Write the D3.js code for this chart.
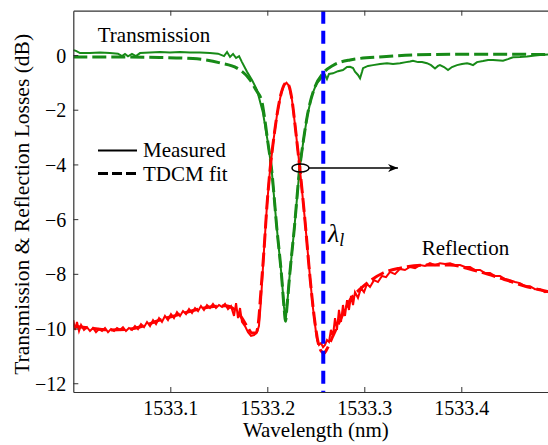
<!DOCTYPE html>
<meta charset="utf-8">
<style>
    body { margin: 0; background: #fff; }
    svg text { font-family: "Liberation Serif", "DejaVu Serif", serif; }
</style>
<body>
<script src="https://d3js.org/d3.v7.min.js"></script>
<script>

    // wavelength (nm), loss (dB)
    var transMeasured = [[1533.0000,0.18],[1533.0028,0.15],[1533.0069,0.07],[1533.0172,0.07],[1533.0275,0.09],[1533.0378,0.07],[1533.0461,0.05],[1533.0502,-0.04],[1533.0533,0.04],[1533.0564,-0.05],[1533.0605,0.04],[1533.0646,-0.04],[1533.0688,0.07],[1533.0791,0.09],[1533.0894,0.11],[1533.0997,0.09],[1533.1100,0.11],[1533.1203,0.09],[1533.1306,0.09],[1533.1409,0.07],[1533.1492,0.05],[1533.1554,-0.04],[1533.1585,0.11],[1533.1616,-0.07],[1533.1647,0.04],[1533.1678,-0.11],[1533.1709,-0.04],[1533.1739,-0.26],[1533.1791,-0.61],[1533.1842,-0.91],[1533.1894,-1.28],[1533.1956,-2.12],[1533.2007,-3.22],[1533.2045,-4.20],[1533.2097,-6.28],[1533.2148,-8.11],[1533.2172,-9.20],[1533.2188,-9.73],[1533.2203,-9.20],[1533.2229,-8.11],[1533.2280,-6.28],[1533.2332,-4.20],[1533.2373,-3.11],[1533.2414,-2.19],[1533.2461,-1.46],[1533.2509,-1.03],[1533.2543,-0.91],[1533.2564,-0.80],[1533.2595,-0.73],[1533.2615,-0.88],[1533.2636,-0.69],[1533.2677,-0.67],[1533.2729,-0.59],[1533.2780,-0.55],[1533.2822,-0.44],[1533.2853,-0.43],[1533.2884,-0.48],[1533.2904,-0.61],[1533.2935,-0.73],[1533.2956,-0.85],[1533.2976,-0.62],[1533.2987,-0.48],[1533.3038,-0.40],[1533.3090,-0.37],[1533.3162,-0.33],[1533.3234,-0.30],[1533.3296,-0.33],[1533.3368,-0.30],[1533.3430,-0.26],[1533.3471,-0.24],[1533.3502,-0.21],[1533.3554,-0.26],[1533.3595,-0.26],[1533.3646,-0.30],[1533.3688,-0.37],[1533.3729,-0.49],[1533.3760,-0.40],[1533.3780,-0.37],[1533.3822,-0.44],[1533.3863,-0.55],[1533.3904,-0.44],[1533.3956,-0.37],[1533.4007,-0.33],[1533.4059,-0.30],[1533.4090,-0.33],[1533.4121,-0.37],[1533.4162,-0.26],[1533.4224,-0.22],[1533.4276,-0.18],[1533.4327,-0.18],[1533.4399,-0.20],[1533.4430,-0.21],[1533.4481,-0.15],[1533.4533,-0.08],[1533.4605,-0.07],[1533.4678,-0.05],[1533.4760,-0.02],[1533.4811,0.00],[1533.4894,0.02],[1533.5017,0.02]];

    var transFit = [[1533.0000,-0.07],[1533.0481,-0.07],[1533.0890,-0.09],[1533.1234,-0.13],[1533.1513,-0.29],[1533.1688,-0.48],[1533.1822,-0.91],[1533.1884,-1.28],[1533.1945,-1.72],[1533.1976,-2.40],[1533.2007,-3.22],[1533.2045,-4.20],[1533.2097,-6.28],[1533.2148,-8.11],[1533.2172,-9.20],[1533.2188,-9.73],[1533.2203,-9.20],[1533.2229,-8.11],[1533.2280,-6.28],[1533.2332,-4.20],[1533.2373,-3.11],[1533.2414,-2.19],[1533.2492,-1.16],[1533.2577,-0.66],[1533.2677,-0.38],[1533.2853,-0.18],[1533.3193,-0.06],[1533.3708,0.02],[1533.4399,0.03],[1533.4894,0.02],[1533.5017,0.02]];

    var reflMeasured = [[1533.0000,-9.69],[1533.0018,-10.05],[1533.0038,-9.76],[1533.0059,-10.09],[1533.0080,-9.87],[1533.0110,-10.05],[1533.0141,-9.95],[1533.0172,-10.09],[1533.0203,-9.98],[1533.0234,-10.13],[1533.0265,-10.02],[1533.0296,-10.09],[1533.0327,-9.98],[1533.0358,-10.13],[1533.0389,-10.02],[1533.0420,-10.09],[1533.0451,-9.98],[1533.0481,-10.05],[1533.0512,-9.95],[1533.0543,-10.09],[1533.0574,-9.98],[1533.0605,-10.05],[1533.0636,-9.91],[1533.0667,-10.02],[1533.0698,-9.84],[1533.0729,-9.95],[1533.0760,-9.76],[1533.0791,-9.91],[1533.0822,-9.69],[1533.0853,-9.84],[1533.0884,-9.62],[1533.0914,-9.76],[1533.0945,-9.54],[1533.0976,-9.69],[1533.1007,-9.47],[1533.1038,-9.62],[1533.1069,-9.40],[1533.1100,-9.54],[1533.1131,-9.36],[1533.1162,-9.47],[1533.1193,-9.29],[1533.1224,-9.43],[1533.1255,-9.25],[1533.1286,-9.36],[1533.1316,-9.18],[1533.1347,-9.32],[1533.1378,-9.14],[1533.1409,-9.25],[1533.1440,-9.10],[1533.1471,-9.25],[1533.1502,-9.14],[1533.1533,-9.21],[1533.1564,-9.10],[1533.1595,-9.29],[1533.1626,-9.18],[1533.1657,-9.54],[1533.1678,-9.07],[1533.1698,-9.62],[1533.1719,-9.25],[1533.1739,-9.76],[1533.1770,-9.91],[1533.1801,-10.13],[1533.1832,-10.27],[1533.1863,-10.24],[1533.1894,-10.13],[1533.1914,-9.91],[1533.1935,-8.96],[1533.1966,-7.13],[1533.1997,-5.48],[1533.2028,-4.20],[1533.2064,-3.11],[1533.2100,-2.19],[1533.2141,-1.43],[1533.2172,-1.10],[1533.2198,-1.01],[1533.2224,-1.13],[1533.2255,-1.65],[1533.2286,-2.56],[1533.2317,-3.55],[1533.2337,-4.20],[1533.2389,-6.07],[1533.2440,-8.12],[1533.2471,-9.25],[1533.2492,-9.87],[1533.2513,-10.42],[1533.2533,-10.60],[1533.2554,-10.53],[1533.2575,-10.68],[1533.2595,-10.60],[1533.2615,-10.42],[1533.2636,-10.49],[1533.2656,-10.05],[1533.2677,-10.27],[1533.2698,-9.62],[1533.2718,-10.05],[1533.2739,-9.32],[1533.2760,-9.76],[1533.2780,-9.14],[1533.2801,-9.54],[1533.2822,-8.96],[1533.2842,-9.32],[1533.2863,-8.81],[1533.2884,-9.14],[1533.2904,-8.67],[1533.2935,-8.88],[1533.2966,-8.52],[1533.2997,-8.67],[1533.3028,-8.37],[1533.3059,-8.48],[1533.3100,-8.23],[1533.3141,-8.30],[1533.3182,-8.08],[1533.3224,-8.12],[1533.3265,-7.93],[1533.3316,-8.01],[1533.3368,-7.82],[1533.3419,-7.86],[1533.3471,-7.75],[1533.3523,-7.79],[1533.3574,-7.68],[1533.3626,-7.71],[1533.3677,-7.61],[1533.3729,-7.68],[1533.3780,-7.61],[1533.3832,-7.64],[1533.3884,-7.61],[1533.3935,-7.68],[1533.3987,-7.68],[1533.4038,-7.75],[1533.4090,-7.75],[1533.4141,-7.86],[1533.4193,-7.86],[1533.4245,-7.97],[1533.4296,-7.97],[1533.4348,-8.08],[1533.4399,-8.08],[1533.4451,-8.19],[1533.4502,-8.23],[1533.4554,-8.30],[1533.4605,-8.34],[1533.4657,-8.45],[1533.4708,-8.45],[1533.4760,-8.56],[1533.4811,-8.56],[1533.4863,-8.67],[1533.4894,-8.63],[1533.4935,-8.70],[1533.5017,-8.74]];

    var reflFit = [[1533.0000,-9.91],[1533.0172,-9.98],[1533.0378,-10.05],[1533.0585,-10.02],[1533.0719,-9.91],[1533.0890,-9.69],[1533.1069,-9.51],[1533.1255,-9.32],[1533.1409,-9.21],[1533.1564,-9.17],[1533.1667,-9.32],[1533.1739,-9.62],[1533.1801,-9.98],[1533.1842,-10.16],[1533.1884,-10.16],[1533.1909,-9.76],[1533.1935,-8.59],[1533.1966,-7.13],[1533.1997,-5.48],[1533.2028,-4.20],[1533.2064,-3.11],[1533.2100,-2.19],[1533.2141,-1.43],[1533.2172,-1.10],[1533.2198,-1.01],[1533.2224,-1.13],[1533.2255,-1.65],[1533.2286,-2.56],[1533.2317,-3.55],[1533.2337,-4.20],[1533.2389,-6.07],[1533.2440,-8.12],[1533.2492,-9.80],[1533.2523,-10.49],[1533.2554,-10.82],[1533.2585,-10.90],[1533.2615,-10.75],[1533.2677,-10.27],[1533.2780,-9.47],[1533.2853,-8.96],[1533.2956,-8.56],[1533.3028,-8.34],[1533.3193,-7.97],[1533.3368,-7.79],[1533.3646,-7.68],[1533.3884,-7.68],[1533.4121,-7.86],[1533.4399,-8.15],[1533.4678,-8.47],[1533.4894,-8.65],[1533.5017,-8.74]];

    var xTicks = [1533.1, 1533.2, 1533.3, 1533.4];
    var yTicks = [-12, -10, -8, -6, -4, -2, 0];
    var lambdaL = 1533.2577;

    var serif = "'Liberation Serif', 'DejaVu Serif', serif";

    var width = 548,
        height = 445;
    var margin = {left: 73.3, top: 10.7, bottom: 53};

    var svg = d3.select("body").append("svg")
        .attr("width", width)
        .attr("height", height)
        .attr("font-family", serif);

    var x = d3.scaleLinear()
        .domain([1533.0, 1533.5])
        .range([margin.left, margin.left + 485]);
    var y = d3.scaleLinear()
        .domain([-12.32, 1.62])
        .range([height - margin.bottom, margin.top]);

    svg.append("clipPath").attr("id", "clip")
        .append("rect")
        .attr("x", margin.left).attr("y", margin.top)
        .attr("width", 485).attr("height", y(-12.32) - margin.top);

    var plot = svg.append("g").attr("clip-path", "url(#clip)");

    var line = d3.line()
        .x(function(d){ return x(d[0]); })
        .y(function(d){ return y(d[1]); });
    var smooth = d3.line()
        .x(function(d){ return x(d[0]); })
        .y(function(d){ return y(d[1]); })
        .curve(d3.curveMonotoneX);

    var green = "#178a17", red = "#ff0000";

    // measured solid, fit dashed on top
    plot.append("path").datum(transMeasured)
        .attr("d", line).attr("fill", "none")
        .attr("stroke", green).attr("stroke-width", 2);
    plot.append("path").datum(transFit)
        .attr("d", smooth).attr("fill", "none")
        .attr("stroke", green).attr("stroke-width", 3)
        .attr("stroke-dasharray", "14,5");

    plot.append("path").datum(reflMeasured)
        .attr("d", line).attr("fill", "none")
        .attr("stroke", red).attr("stroke-width", 2);
    plot.append("path").datum(reflFit)
        .attr("d", smooth).attr("fill", "none")
        .attr("stroke", red).attr("stroke-width", 3)
        .attr("stroke-dasharray", "14,5");

    // lambda_l marker
    plot.append("line")
        .attr("x1", x(lambdaL)).attr("x2", x(lambdaL))
        .attr("y1", margin.top).attr("y2", y(-12.32))
        .attr("stroke", "#0000ff").attr("stroke-width", 4)
        .attr("stroke-dasharray", "13,7");

    // axes
    var xAxis = svg.append("g")
        .attr("transform", "translate(0," + y(-12.32) + ")")
        .call(d3.axisBottom(x).tickValues(xTicks).tickSizeInner(-5).tickSizeOuter(0)
            .tickFormat(d3.format(".1f")));
    xAxis.selectAll("text").attr("y", 23).attr("dy", 0);

    svg.append("g")
        .attr("transform", "translate(0," + margin.top + ")")
        .call(d3.axisTop(x).tickValues(xTicks).tickSizeInner(-5).tickSizeOuter(0).tickFormat(""));

    var yAxis = svg.append("g")
        .attr("transform", "translate(" + margin.left + ",0)")
        .call(d3.axisLeft(y).tickValues(yTicks).tickSizeInner(-5).tickSizeOuter(0));
    yAxis.selectAll("text").attr("x", -7).attr("dy", "0.35em");

    svg.selectAll("g.tick text")
        .attr("font-family", serif).attr("font-size", 20).attr("fill", "#000");
    svg.selectAll(".domain, g.tick line").attr("stroke", "#333");
    svg.selectAll(".domain").attr("stroke-width", 1.2);

    // axis labels
    svg.append("text")
        .attr("x", x(1533.25)).attr("y", 437)
        .attr("text-anchor", "middle")
        .attr("font-size", 21)
        .text("Wavelength (nm)");
    svg.append("text")
        .attr("transform", "translate(29," + ((margin.top + y(-12.32)) / 2 + 3) + ") rotate(-90)")
        .attr("text-anchor", "middle")
        .attr("font-size", 21.5)
        .text("Transmission & Reflection Losses (dB)");

    // annotations
    svg.append("text").attr("x", x(1533.0252)).attr("y", y(0.49))
        .attr("font-size", 21).text("Transmission");
    svg.append("text").attr("x", x(1533.3592)).attr("y", y(-7.31))
        .attr("font-size", 21).text("Reflection");
    var lam = svg.append("text").attr("x", x(1533.2626)).attr("y", y(-6.84))
        .attr("font-size", 26).attr("font-style", "italic");
    lam.append("tspan").text("λ");
    lam.append("tspan").attr("dy", 4).attr("font-size", 18).text("l");

    // legend
    var lg = svg.append("g");
    lg.append("line").attr("x1", 98).attr("x2", 137).attr("y1", 150.5).attr("y2", 150.5)
        .attr("stroke", "#000").attr("stroke-width", 2);
    lg.append("line").attr("x1", 98).attr("x2", 137).attr("y1", 173.5).attr("y2", 173.5)
        .attr("stroke", "#000").attr("stroke-width", 3).attr("stroke-dasharray", "10,4");
    lg.append("text").attr("x", 143).attr("y", 157).attr("font-size", 21).text("Measured");
    lg.append("text").attr("x", 143).attr("y", 181).attr("font-size", 21).text("TDCM fit");

    // crossing marker and arrow
    svg.append("defs").append("marker")
        .attr("id", "arrow").attr("viewBox", "0 0 10 10")
        .attr("refX", 10).attr("refY", 5)
        .attr("markerWidth", 10).attr("markerHeight", 10)
        .attr("markerUnits", "userSpaceOnUse")
        .attr("orient", "auto")
        .append("path").attr("d", "M0,1 L10,5 L0,9 L3,5 Z").attr("fill", "#000");
    svg.append("ellipse")
        .attr("cx", x(1533.2342)).attr("cy", y(-4.13))
        .attr("rx", 8.5).attr("ry", 4)
        .attr("fill", "none").attr("stroke", "#000").attr("stroke-width", 1.5);
    svg.append("line")
        .attr("x1", x(1533.2342) + 8.5).attr("x2", x(1533.3347))
        .attr("y1", y(-4.13)).attr("y2", y(-4.13))
        .attr("stroke", "#000").attr("stroke-width", 1.5)
        .attr("marker-end", "url(#arrow)");

</script>
